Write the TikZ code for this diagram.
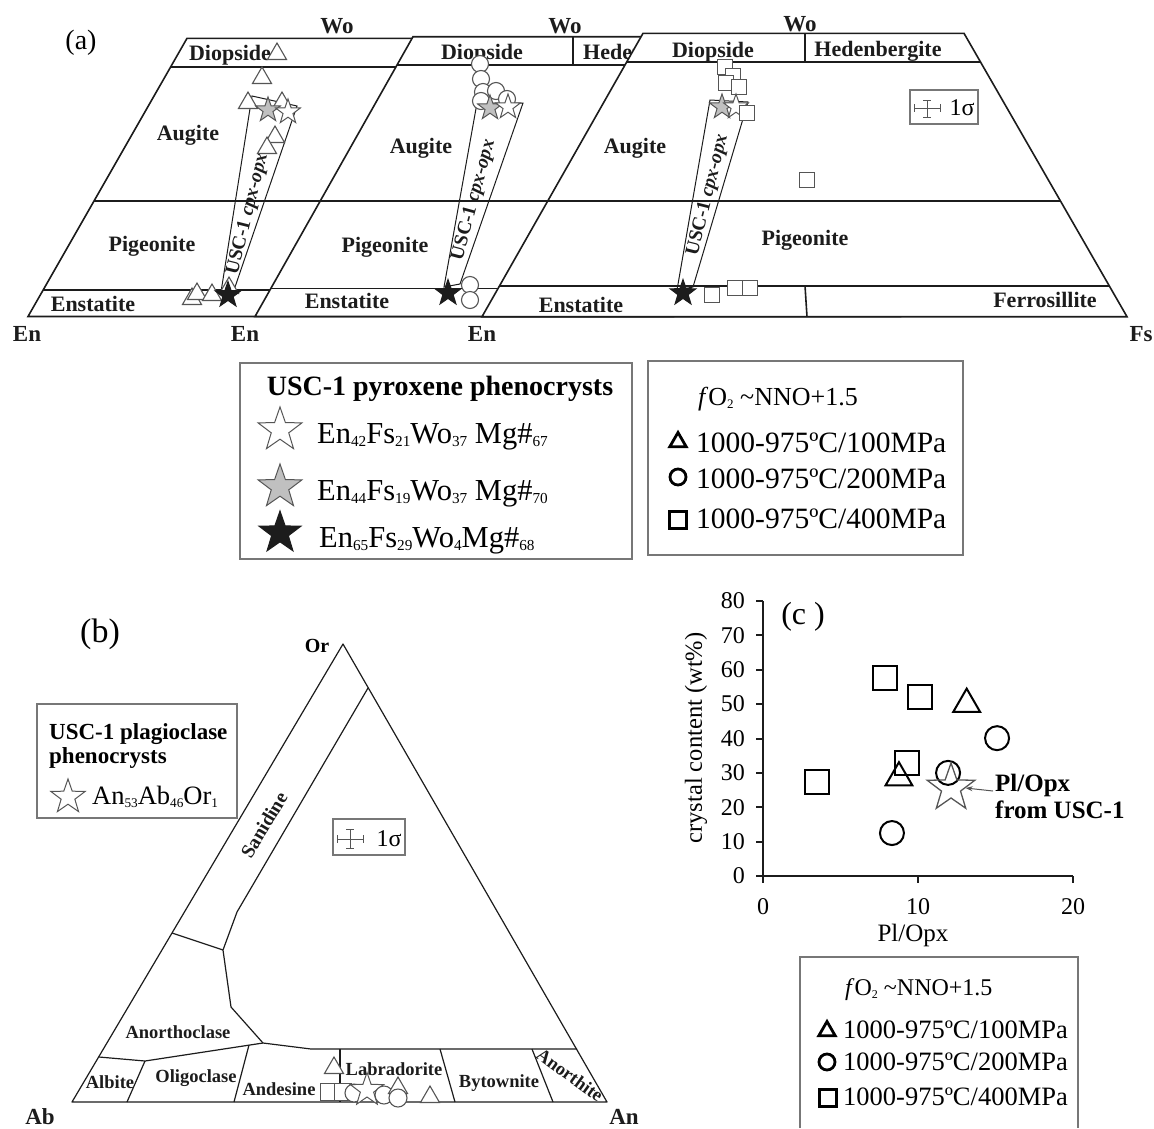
\documentclass[tikz,border=0pt]{standalone}
\usepackage{fontspec}
\usepackage{graphicx}
\setmainfont{Liberation Serif}
\usetikzlibrary{shapes.geometric,arrows.meta}
\definecolor{ln}{HTML}{1C1C1C}
\definecolor{mk}{HTML}{555555}
\definecolor{bx}{HTML}{777777}
\definecolor{gs}{HTML}{C0C0C0}
\newcommand{\fsz}[1]{\fontsize{#1}{#1}\selectfont}
\newcommand{\sbs}[1]{\raisebox{-0.28ex}{\scalebox{0.5}{#1}}}
\begin{document}
\begin{tikzpicture}[x=1pt,y=-1pt,
  frame/.style={draw=ln,line width=1.6pt},
  bline/.style={draw=ln,line width=1.2pt,line join=round},
  tieln/.style={draw=ln,line width=1pt},
  lbl/.style={font=\fsz{22}\bfseries,inner sep=0pt,text=ln},
  corner/.style={font=\fsz{23}\bfseries,inner sep=0pt,text=ln},
  blbl/.style={font=\fsz{18.5}\bfseries,inner sep=0pt,text=ln},
  bandtxt/.style={font=\fsz{19.5}\bfseries,inner sep=0pt,text=ln},
  tri/.style={regular polygon,regular polygon sides=3,draw=mk,fill=white,line width=1.1pt,inner sep=0pt,minimum size=#1},
  tri/.default=22pt,
  sq/.style={rectangle,draw=mk,fill=white,line width=1.1pt,inner sep=0pt,minimum size=#1},
  sq/.default=15pt,
  ci/.style={circle,draw=mk,fill=white,line width=1.1pt,inner sep=0pt,minimum size=#1},
  ci/.default=17pt,
  pstar/.style={star,star points=5,star point ratio=2.5,inner sep=0pt,line width=1pt,minimum size=#1},
  wst/.style={pstar=#1,draw=mk,fill=white},
  wst/.default=26pt,
  gst/.style={pstar=#1,draw=mk,fill=gs},
  gst/.default=26pt,
  bst/.style={pstar=#1,draw=ln,fill=ln},
  bst/.default=27pt,
  legbox/.style={draw=bx,line width=1.3pt,fill=none,inner sep=0pt},
  lgtri/.style={regular polygon,regular polygon sides=3,draw=black,line width=2.8pt,inner sep=0pt,minimum size=19pt},
  lgci/.style={circle,draw=black,line width=2.8pt,inner sep=0pt,minimum size=16pt},
  lgsq/.style={rectangle,draw=black,line width=2.8pt,inner sep=0pt,minimum size=17pt},
  ptri/.style={regular polygon,regular polygon sides=3,draw=black,line width=2pt,inner sep=0pt,minimum size=31pt},
  pci/.style={circle,draw=black,line width=2pt,inner sep=0pt,minimum size=24pt},
  psq/.style={rectangle,draw=black,line width=2pt,inner sep=0pt,minimum size=24pt},
  axln/.style={draw=ln,line width=2pt},
  ticklbl/.style={font=\fsz{24},inner sep=0pt},
  errbar/.style={draw=mk,line width=1pt}
]
\useasboundingbox (0,0) rectangle (1154,1128);

% ================= (a) =================
\node[font=\fsz{28},inner sep=0pt] (lab-a) at (81,43) {(a)};

% ---- panel 1 (100 MPa)
\draw[frame,fill=white] (28,316.5) -- (187,38.3) -- (510,38.3) -- (673,316.5) -- cycle;
\draw[frame] (170.8,66.7) -- (526.6,66.7) (94,201) -- (605.3,201) (43.1,290) -- (657.5,290);
\node[corner,anchor=base] (wo1) at (337,33) {Wo};
\node[corner,anchor=base] (en1) at (27,341) {En};
\node[lbl,anchor=base] (di1) at (230,60) {Diopside};
\node[lbl,anchor=base] (au1) at (188,140) {Augite};
\node[lbl,anchor=base] (pi1) at (152,251) {Pigeonite};
\node[lbl,anchor=base] (es1) at (93,311) {Enstatite};
\draw[tieln] (221,292) -- (252,96) -- (297,106) -- (234,290) -- cycle;
\node[bandtxt,rotate=76] (bt1) at (248,214) {USC-1 \textit{cpx-opx}};
\node[tri] (p1a) at (277,54) {};
\node[tri] (p1b) at (262,78) {};
\node[tri] (p1c) at (282,103) {};
\node[tri] (p1d) at (248,103) {};
\node[gst] (p1g) at (268,110) {};
\node[wst] (p1w) at (288,112) {};
\node[tri] (p1e) at (275,137) {};
\node[tri] (p1f) at (267,148) {};
\node[tri] (p1h) at (229,288) {};
\node[tri] (p1i) at (192,299) {};
\node[tri] (p1j) at (197,294) {};
\node[tri] (p1k) at (212,295) {};
\node[bst] (p1s) at (228,295) {};

% ---- panel 2 (200 MPa)
\draw[frame,fill=white] (255,316.5) -- (413,36.7) -- (737,36.7) -- (900,316.5) -- cycle;
\draw[frame] (397,65) -- (753.5,65) (320.2,201) -- (832.7,201) (270.9,288.3) -- (883.6,288.3);
\draw[frame] (573,36.7) -- (573,65);
\node[corner,anchor=base] (wo2) at (565,33) {Wo};
\node[corner,anchor=base] (en2) at (245,341) {En};
\node[lbl,anchor=base] (di2) at (482,59) {Diopside};
\node[lbl,anchor=base west] (he2) at (583,59) {Hedenbergite};
\node[lbl,anchor=base] (au2) at (421,153) {Augite};
\node[lbl,anchor=base] (pi2) at (385,252) {Pigeonite};
\node[lbl,anchor=base] (es2) at (347,308) {Enstatite};
\draw[tieln] (444,287) -- (477,103) -- (523,103) -- (460,284) -- cycle;
\node[bandtxt,rotate=75] (bt2) at (474,200) {USC-1 \textit{cpx-opx}};
\node[ci] (p2a) at (480,64) {};
\node[ci] (p2b) at (481,79) {};
\node[ci] (p2c) at (483,92) {};
\node[ci] (p2d) at (496,91) {};
\node[ci] (p2e) at (507,99) {};
\node[ci] (p2f) at (481,101) {};
\node[gst] (p2g) at (490,108) {};
\node[wst] (p2w) at (508,107) {};
\node[ci] (p2h) at (470,285) {};
\node[ci] (p2i) at (470,300) {};
\node[bst] (p2s) at (448,293) {};

% ---- panel 3 (400 MPa)
\draw[frame,fill=white] (482,316.7) -- (643,33.3) -- (964,33.3) -- (1127,316.7) -- cycle;
\draw[frame] (626.7,62) -- (980.5,62) (547.7,201) -- (1060.4,201) (499.6,285.7) -- (1109.2,285.7);
\draw[frame] (805,33.3) -- (805,62) (805,285.7) -- (807,316.7);
\node[corner,anchor=base] (wo3) at (800,31) {Wo};
\node[corner,anchor=base] (en3) at (482,341) {En};
\node[corner,anchor=base] (fs3) at (1141,341) {Fs};
\node[lbl,anchor=base] (di3) at (713,57) {Diopside};
\node[lbl,anchor=base] (he3) at (878,56) {Hedenbergite};
\node[lbl,anchor=base] (au3) at (635,153) {Augite};
\node[lbl,anchor=base] (pi3) at (805,245) {Pigeonite};
\node[lbl,anchor=base] (es3) at (581,312) {Enstatite};
\node[lbl,anchor=base] (fe3) at (1045,307) {Ferrosillite};
\node[legbox,minimum width=68pt,minimum height=34pt] (sgA) at (944,107) {};
\draw[errbar] (914,108) -- (940,108) (914,104) -- (914,112) (940,104) -- (940,112)
  (927,100) -- (927,117) (923,100) -- (931,100) (923,117) -- (931,117);
\node[font=\fsz{24},inner sep=0pt] (sgAt) at (962,108) {1σ};
\draw[tieln] (677,290) -- (710,100) -- (748,102) -- (693,287) -- cycle;
\node[bandtxt,rotate=76] (bt3) at (708,195) {USC-1 \textit{cpx-opx}};
\node[sq] (p3a) at (725,67) {};
\node[sq] (p3b) at (733,76) {};
\node[sq] (p3c) at (726,83) {};
\node[sq] (p3d) at (739,87) {};
\node[gst] (p3g) at (722,107) {};
\node[wst] (p3w) at (736,107) {};
\node[sq] (p3e) at (747,113) {};
\node[sq] (p3f) at (807,180) {};
\node[sq] (p3h) at (712,295) {};
\node[sq] (p3i) at (735,288) {};
\node[sq] (p3j) at (750,288) {};
\node[bst] (p3s) at (683,293) {};

% ---- legend 1
\node[legbox,minimum width=392pt,minimum height=196pt] (lg1) at (436,461) {};
\node[font=\fsz{28}\bfseries,inner sep=0pt,anchor=base] (lg1t) at (440,395) {USC-1 pyroxene phenocrysts};
\node[wst=46pt] (lg1s1) at (280,430) {};
\node[gst=46pt] (lg1s2) at (280,487) {};
\node[bst=44pt] (lg1s3) at (280,533) {};
\node[font=\fsz{30.5},inner sep=0pt,anchor=base west] (lg1r1) at (317,443) {En\sbs{42}Fs\sbs{21}Wo\sbs{37} Mg\#\sbs{67}};
\node[font=\fsz{30.5},inner sep=0pt,anchor=base west] (lg1r2) at (317,500) {En\sbs{44}Fs\sbs{19}Wo\sbs{37} Mg\#\sbs{70}};
\node[font=\fsz{30.5},inner sep=0pt,anchor=base west] (lg1r3) at (319,547) {En\sbs{65}Fs\sbs{29}Wo\sbs{4}Mg\#\sbs{68}};

% ---- legend 2
\node[legbox,minimum width=315pt,minimum height=194pt] (lg2) at (805.5,458) {};
\node[font=\fsz{26},inner sep=0pt,anchor=base west] (lg2t) at (698,405) {\textit{f}O\sbs{2} \textasciitilde NNO+1.5};
\node[lgtri] (lg2a) at (678,442) {};
\node[lgci] (lg2b) at (678,477) {};
\node[lgsq] (lg2c) at (678,520) {};
\node[font=\fsz{29.5},inner sep=0pt,anchor=base west] (lg2r1) at (696,452) {1000-975ºC/100MPa};
\node[font=\fsz{29.5},inner sep=0pt,anchor=base west] (lg2r2) at (696,488) {1000-975ºC/200MPa};
\node[font=\fsz{29.5},inner sep=0pt,anchor=base west] (lg2r3) at (696,528) {1000-975ºC/400MPa};

% ================= (b) =================
\node[font=\fsz{34},inner sep=0pt] (lab-b) at (100,634) {(b)};
\draw[bline] (72,1102) -- (343,644) -- (607,1102) -- cycle;
\draw[bline] (368,688) -- (237,912) -- (223,950) -- (231,1007) -- (263,1043) -- (311,1049) -- (577,1049);
\draw[bline] (172,933) -- (223,950);
\draw[bline] (99,1057) -- (145,1061) -- (263,1043);
\draw[bline] (145,1061) -- (127,1102);
\draw[bline] (249,1045) -- (234,1102);
\draw[bline] (340,1049) -- (340,1102);
\draw[bline] (440,1049) -- (455,1102);
\draw[bline] (532,1049) -- (553,1102);
\node[font=\fsz{20}\bfseries,inner sep=0pt] (orl) at (317,646) {Or};
\node[corner,anchor=base] (abl) at (40,1124) {Ab};
\node[corner,anchor=base] (anl) at (624,1124) {An};
\node[bandtxt,rotate=59] (san) at (264,825) {Sanidine};
\node[blbl,anchor=base] (ancl) at (178,1038) {Anorthoclase};
\node[blbl,anchor=base] (alb) at (110,1088) {Albite};
\node[blbl,anchor=base] (oli) at (196,1082) {Oligoclase};
\node[blbl,anchor=base] (and) at (279,1095) {Andesine};
\node[blbl,anchor=base] (lab) at (394,1075) {Labradorite};
\node[blbl,anchor=base] (byt) at (499,1087) {Bytownite};
\node[blbl,rotate=-36] (ant) at (570,1075) {Anorthite};
\node[legbox,minimum width=72pt,minimum height=36pt] (sgB) at (369,837) {};
\draw[errbar] (337,839) -- (363,839) (337,835) -- (337,843) (363,835) -- (363,843)
  (350,829) -- (350,848) (346,829) -- (354,829) (346,848) -- (354,848);
\node[font=\fsz{24},inner sep=0pt] (sgBt) at (389,839) {1σ};
\node[tri=22pt] (bm1) at (334,1068) {};
\node[sq=17pt] (bm2) at (329,1092) {};
\node[sq=17pt] (bm3) at (343,1092) {};
\node[ci=18pt] (bm4) at (354,1093) {};
\node[wst=35pt] (bm5) at (367,1090) {};
\node[ci=18pt] (bm6) at (384,1095) {};
\node[tri=22pt] (bm7) at (398,1088) {};
\node[ci=18pt] (bm8) at (398,1098) {};
\node[tri=22pt] (bm9) at (430,1097) {};
% legend b
\node[legbox,minimum width=200pt,minimum height=114pt] (lgb) at (137,761) {};
\node[font=\fsz{23}\bfseries,inner sep=0pt,anchor=base west] (lgbt1) at (49,739) {USC-1 plagioclase};
\node[font=\fsz{23}\bfseries,inner sep=0pt,anchor=base west] (lgbt2) at (49,763) {phenocrysts};
\node[wst=36pt] (lgbs) at (68,797) {};
\node[font=\fsz{26.5},inner sep=0pt,anchor=base west] (lgbr) at (92,804) {An\sbs{53}Ab\sbs{46}Or\sbs{1}};

% ================= (c) =================
% axes (x: 0..20 -> 763..1073 ; y: 0..80 -> 876..601)
\draw[axln] (763,601) -- (763,876) -- (1073,876);
\draw[axln] (756,876) -- (763,876) (756,841.6) -- (763,841.6) (756,807.3) -- (763,807.3)
  (756,772.9) -- (763,772.9) (756,738.5) -- (763,738.5) (756,704.1) -- (763,704.1)
  (756,669.8) -- (763,669.8) (756,635.4) -- (763,635.4) (756,601) -- (763,601);
\draw[axln] (763,876) -- (763,883) (918,876) -- (918,883) (1073,876) -- (1073,883);
\node[ticklbl,anchor=east] (yt0) at (745,876) {0};
\node[ticklbl,anchor=east] (yt10) at (745,841.6) {10};
\node[ticklbl,anchor=east] (yt20) at (745,807.3) {20};
\node[ticklbl,anchor=east] (yt30) at (745,772.9) {30};
\node[ticklbl,anchor=east] (yt40) at (745,738.5) {40};
\node[ticklbl,anchor=east] (yt50) at (745,704.1) {50};
\node[ticklbl,anchor=east] (yt60) at (745,669.8) {60};
\node[ticklbl,anchor=east] (yt70) at (745,635.4) {70};
\node[ticklbl,anchor=east] (yt80) at (745,601) {80};
\node[ticklbl] (xt0) at (763,907) {0};
\node[ticklbl] (xt10) at (918,907) {10};
\node[ticklbl] (xt20) at (1073,907) {20};
\node[font=\fsz{25},inner sep=0pt] (xlab) at (913,935) {Pl/Opx};
\node[font=\fsz{24.5},inner sep=0pt,rotate=90] (ylab) at (696,738) {crystal content (wt\%)};
\node[font=\fsz{32},inner sep=0pt] (lab-c) at (803,617) {(c )};
\begin{scope}[shift={(763,876)},x=15.5pt,y=3.4375pt]
  \node[psq] (cq1) at (7.87,57.6) {};
  \node[psq] (cq2) at (10.13,52.1) {};
  \node[psq] (cq3) at (9.29,32.9) {};
  \node[psq] (cq4) at (3.48,27.3) {};
  \node[ptri] (ct1) at (13.14,50.0) {};
  \node[ptri] (ct2) at (8.77,28.6) {};
  \node[pci] (cc1) at (15.1,40.1) {};
  \node[pci] (cc2) at (11.94,30.0) {};
  \node[pci] (cc3) at (8.32,12.5) {};
  \node[pstar=50pt,draw=mk,fill=none,line width=1.3pt] (cstar) at (12.13,25.6) {};
\end{scope}
\node[font=\fsz{25}\bfseries,inner sep=0pt,anchor=base west] (ann1) at (995,791) {Pl/Opx};
\node[font=\fsz{25}\bfseries,inner sep=0pt,anchor=base west] (ann2) at (995,818) {from USC-1};
\draw[draw=mk,line width=1pt,-{Stealth[length=7pt,width=5pt]}] ([xshift=-2pt]ann1.base west) -- (cstar.east);

% legend c
\draw[draw=bx,line width=1.3pt] (800,1128) -- (800,957) -- (1078,957) -- (1078,1128);
\node[font=\fsz{24},inner sep=0pt,anchor=base west] (lgct) at (845,995) {\textit{f}O\sbs{2} \textasciitilde NNO+1.5};
\node[lgtri] (lgca) at (827,1031) {};
\node[lgci] (lgcb) at (827,1062) {};
\node[lgsq] (lgcc) at (828,1098) {};
\node[font=\fsz{26.5},inner sep=0pt,anchor=base west] (lgcr1) at (843,1038) {1000-975ºC/100MPa};
\node[font=\fsz{26.5},inner sep=0pt,anchor=base west] (lgcr2) at (843,1070) {1000-975ºC/200MPa};
\node[font=\fsz{26.5},inner sep=0pt,anchor=base west] (lgcr3) at (843,1105) {1000-975ºC/400MPa};
\end{tikzpicture}
\end{document}
